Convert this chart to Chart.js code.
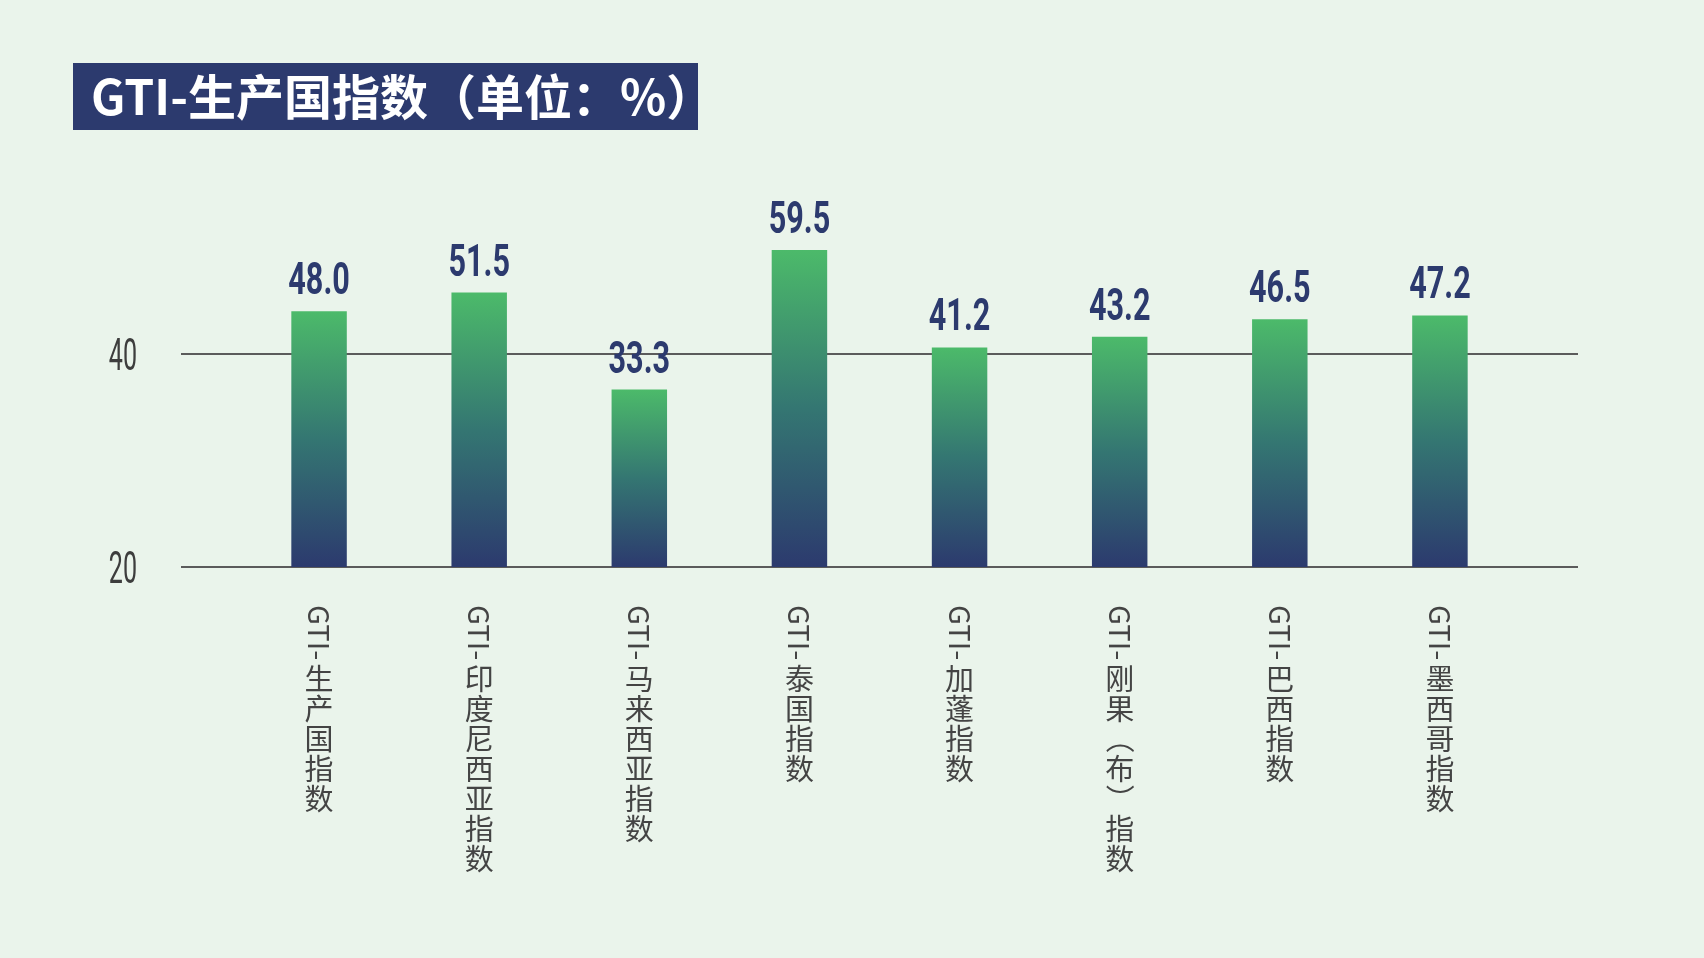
<!DOCTYPE html>
<html>
<head>
<meta charset="utf-8">
<script src="https://cdn.jsdelivr.net/npm/chart.js@4.4.1/dist/chart.umd.min.js"></script>
<style>
  html, body { margin: 0; padding: 0; background: #eaf4eb; }
  canvas { display: block; }
</style>
</head>
<body>
<canvas id="myChart" width="1704" height="958"></canvas>
<script>
// GTI 生产国指数
const title = "GTI-生产国指数（单位：%）";
const categories = ["GTI-生产国指数", "GTI-印度尼西亚指数", "GTI-马来西亚指数", "GTI-泰国指数",
    "GTI-加蓬指数", "GTI-刚果（布）指数", "GTI-巴西指数", "GTI-墨西哥指数"];
const values = [48.0, 51.5, 33.3, 59.5, 41.2, 43.2, 46.5, 47.2];
// the picture labels its baseline "20"
const tickValues = [0, 40];
const tickLabels = ["20", "40"];

const navy = "#2c3a6e";
const green = "#4cba6a";

function barGradient(context) {
    const chart = context.chart;
    if (!chart.chartArea || !chart.scales.y) return green;
    const y = chart.scales.y;
    const top = y.getPixelForValue(context.raw);
    const bottom = y.getPixelForValue(0);
    const g = chart.ctx.createLinearGradient(0, top, 0, bottom);
    g.addColorStop(0, green);
    g.addColorStop(0.5, "#347672");
    g.addColorStop(1, navy);
    return g;
}

const decor = {
    id: "decor",
    beforeDatasetsDraw(chart) {
        const { ctx, chartArea, scales } = chart;
        ctx.save();
        ctx.strokeStyle = "#5b5b5b";
        ctx.lineWidth = 2;
        tickValues.forEach((v, i) => {
            const py = Math.round(scales.y.getPixelForValue(v));
            ctx.beginPath();
            ctx.moveTo(chartArea.left - 58, py);
            ctx.lineTo(chartArea.right + 58, py);
            ctx.stroke();

            ctx.save();
            ctx.translate(137, py + 16);
            ctx.scale(0.57, 1);
            ctx.font = "44px Roboto";
            ctx.textAlign = "right";
            ctx.textBaseline = "alphabetic";
            ctx.fillStyle = "#3d3d3d";
            ctx.fillText(tickLabels[i], 0, 0);
            ctx.restore();
        });
        ctx.restore();
    },
    afterDatasetsDraw(chart) {
        const { ctx } = chart;
        const bars = chart.getDatasetMeta(0).data;
        ctx.save();

        // value labels
        bars.forEach((bar, i) => {
            ctx.save();
            ctx.translate(bar.x, bar.y - 17);
            ctx.scale(0.68, 1);
            ctx.font = "bold 45px Roboto";
            ctx.textAlign = "center";
            ctx.textBaseline = "alphabetic";
            ctx.fillStyle = navy;
            ctx.fillText(values[i].toFixed(1), 0, 0);
            ctx.restore();
        });

        // vertical category labels
        ctx.font = '29px "Noto Sans CJK SC"';
        ctx.fillStyle = "#444";
        bars.forEach((bar, i) => {
            const parts = categories[i].match(/[A-Za-z0-9\-（）]+|[^A-Za-z0-9\-（）]/g);
            let cy = 605;
            parts.forEach(p => {
                if (/^[A-Za-z0-9\-（）]+$/.test(p)) {
                    ctx.save();
                    ctx.translate(bar.x, cy);
                    ctx.rotate(Math.PI / 2);
                    ctx.textAlign = "left";
                    ctx.textBaseline = "middle";
                    ctx.fillText(p, 0, 0);
                    ctx.restore();
                    cy += p.startsWith("（") || p.startsWith("）") ? 30 * p.length : ctx.measureText(p).width + 4;
                } else {
                    ctx.textAlign = "center";
                    ctx.textBaseline = "middle";
                    ctx.fillText(p, bar.x, cy + 15);
                    cy += 30;
                }
            });
        });

        // title box
        ctx.fillStyle = navy;
        ctx.fillRect(73, 63, 625, 67);
        ctx.fillStyle = "#ffffff";
        ctx.font = 'bold 48px "Noto Sans CJK SC"';
        ctx.textAlign = "left";
        ctx.textBaseline = "middle";
        ctx.fillText(title, 91, 97);

        ctx.restore();
    }
};

new Chart(document.getElementById("myChart"), {
    type: "bar",
    data: {
        labels: categories,
        datasets: [
            {
                data: values,
                backgroundColor: barGradient,
                borderWidth: 0,
                barPercentage: 0.7,
                categoryPercentage: 0.495,
            },
        ],
    },
    options: {
        responsive: false,
        animation: false,
        layout: {
            padding: { left: 239, right: 184, top: 194, bottom: 391 },
        },
        scales: {
            x: { display: false },
            y: { display: false, min: 0, max: 70 },
        },
        plugins: {
            legend: { display: false },
            tooltip: { enabled: false },
        },
    },
    plugins: [decor],
});
</script>
</body>
</html>
